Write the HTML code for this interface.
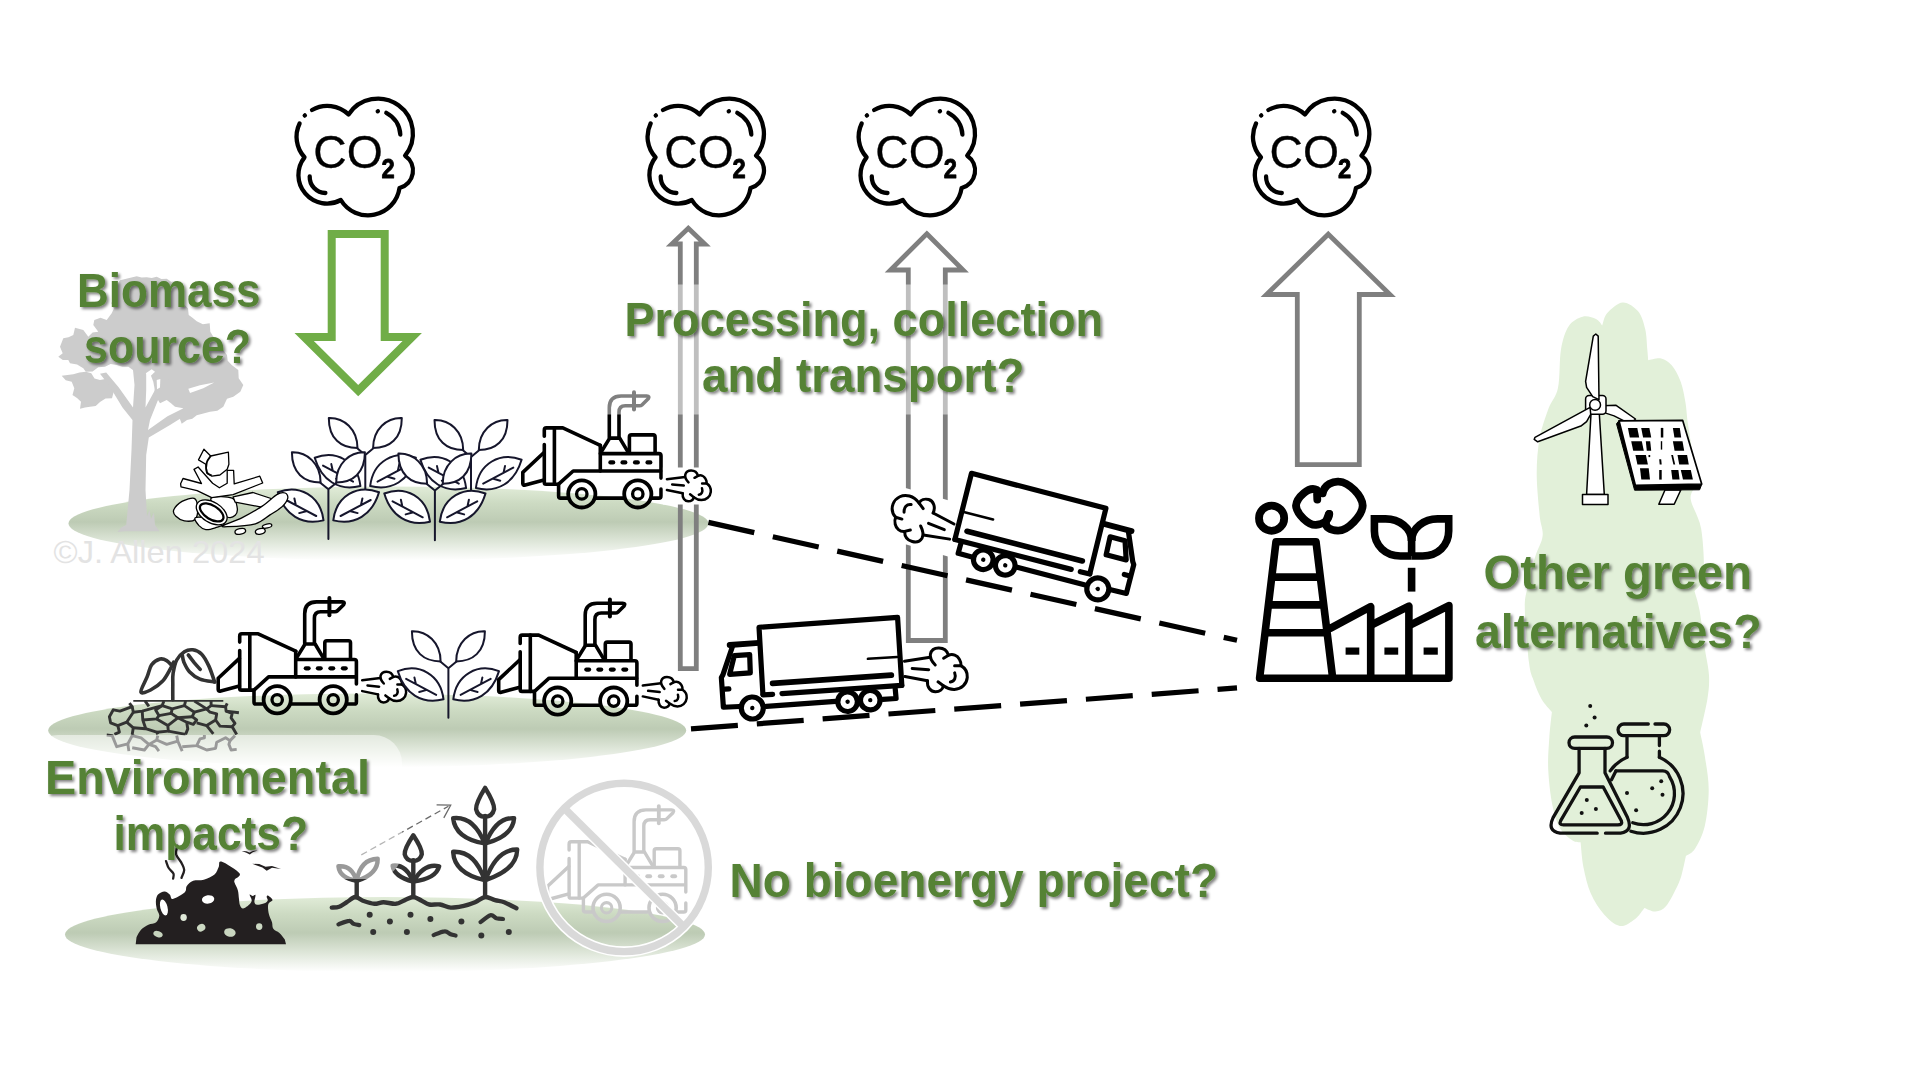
<!DOCTYPE html>
<html lang="en">
<head>
<meta charset="utf-8">
<title>Bioenergy carbon accounting questions</title>
<style>
html,body{margin:0;padding:0;background:#ffffff;}
body{width:1920px;height:1080px;overflow:hidden;font-family:"Liberation Sans",sans-serif;}
svg{display:block;}
</style>
</head>
<body>
<svg width="1920" height="1080" viewBox="0 0 1920 1080" role="img" aria-label="Bioenergy supply chain questions">
<defs>
<linearGradient id="gnd" x1="0" y1="0" x2="0" y2="1">
<stop offset="0" stop-color="#e1ecd8"/>
<stop offset="0.22" stop-color="#cddbc3"/>
<stop offset="0.48" stop-color="#bdcbb4"/>
<stop offset="0.75" stop-color="#dfe7da"/>
<stop offset="1" stop-color="#ffffff"/>
</linearGradient>
<filter id="ts" x="-10%" y="-20%" width="125%" height="150%">
<feGaussianBlur in="SourceAlpha" stdDeviation="1.8" result="b"/>
<feOffset in="b" dx="2.4" dy="2.4" result="o"/>
<feComponentTransfer in="o" result="s"><feFuncA type="linear" slope="0.5"/></feComponentTransfer>
<feMerge><feMergeNode in="s"/><feMergeNode in="SourceGraphic"/></feMerge>
</filter>
</defs>
<ellipse cx="388.5" cy="523.5" rx="320" ry="37" fill="url(#gnd)"/>
<ellipse cx="367.2" cy="730.5" rx="319" ry="37" fill="url(#gnd)"/>
<ellipse cx="385" cy="934.5" rx="320" ry="37.5" fill="url(#gnd)"/>
<path d="M120.0,280.3 L128.3,278.3 L136.7,276.3 L141.6,277.4 L146.7,277.3 L151.7,278.1 L156.7,276.7 L161.4,279.0 L166.7,278.7 L171.2,281.8 L176.7,281.0 L178.2,286.8 L181.7,291.7 L180.6,297.9 L183.3,303.7 L188.0,308.4 L188.7,315.0 L192.8,318.0 L196.7,321.3 L202.9,324.3 L209.7,323.3 L210.3,331.7 L213.0,336.2 L216.7,340.0 L221.7,348.3 L227.0,355.0 L227.7,360.8 L231.7,365.0 L238.3,370.0 L238.7,378.3 L243.3,385.0 L240.3,391.7 L233.3,396.7 L227.0,398.7 L223.3,406.7 L217.3,410.8 L210.0,411.7 L203.4,413.6 L196.7,415.3 L192.3,418.7 L187.0,420.0 L181.7,423.7 L178.7,415.8 L183.3,408.3 L175.0,406.7 L171.0,403.2 L166.7,400.0 L160.0,403.3 L155.0,395.0 L154.5,388.3 L153.3,381.7 L150.0,373.3 L144.6,374.7 L140.0,371.7 L133.7,370.4 L128.3,366.7 L122.4,366.8 L116.7,365.0 L110.6,363.9 L105.0,366.7 L98.3,367.2 L92.6,371.5 L85.8,371.7 L83.3,368.3 L77.1,364.6 L70.0,363.3 L68.3,360.0 L62.8,359.9 L58.3,356.7 L62.7,353.3 L60.0,346.7 L63.3,338.3 L68.5,337.2 L73.3,335.0 L75.0,327.7 L83.3,330.0 L88.3,336.7 L92.6,332.6 L98.3,331.7 L93.3,325.0 L94.3,320.0 L100.5,317.7 L106.7,320.0 L111.7,313.3 L113.9,308.5 L111.4,303.2 L113.3,298.3 L113.0,292.3 L115.3,286.7Z" fill="#cccccc"/>
<path d="M61.7,375.8 L67.5,374.9 L73.3,374.2 L79.5,372.4 L85.8,371.7 L91.3,373.2 L94.5,378.5 L100.0,380.0 L105.3,378.9 L110.0,381.7 L111.8,386.7 L113.7,391.7 L112.0,398.3 L105.5,398.6 L100.0,402.0 L95.7,405.9 L90.0,406.7 L85.0,407.5 L80.0,408.7 L81.0,401.7 L77.0,398.0 L72.5,395.0 L74.3,388.3 L71.7,381.7 L65.7,380.3Z" fill="#cccccc"/>
<path d="M125.0,531.2 L117.5,532.0 L121.2,527.5 L126.2,525.0 L129.5,490.0 L131.5,450.0 L132.5,420.0 L122.5,407.5 L108.8,385.0 L100.0,373.8 L106.2,372.5 L118.8,387.5 L133.0,407.5 L134.5,385.0 L132.5,365.0 L146.2,365.0 L146.2,390.0 L145.5,407.5 L155.0,390.0 L162.5,377.5 L168.8,380.0 L160.0,395.0 L150.0,420.0 L148.0,430.0 L167.5,416.2 L185.0,407.5 L190.0,412.5 L170.0,425.0 L148.8,437.5 L146.2,455.0 L145.5,490.0 L147.0,516.2 L149.5,510.0 L151.0,518.8 L154.0,512.5 L155.0,525.0 L159.5,531.2Z" fill="#cccccc"/>
<path d="M188.3,388.7 L200.0,385.3 L214.2,382.5 L203.3,388.3 L190.0,393.0Z" fill="#ffffff"/>
<path d="M156.7,380.0 L160.3,379.0 L160.0,387.5 L157.0,389.2Z" fill="#ffffff"/>
<path d="M145.8,373.3 L151.7,369.2 L155.0,371.7 L148.3,378.3Z" fill="#ffffff"/>
<path d="M1551.9,711.9 C1550.1,709.7 1544.5,704.1 1541.5,698.9 C1538.5,693.7 1535.8,686.8 1533.7,680.7 C1531.6,674.7 1530.5,674.6 1529.0,662.6 C1527.6,650.6 1525.0,621.4 1524.8,608.7 C1524.6,596.1 1526.1,595.1 1527.8,586.5 C1529.5,577.9 1532.7,565.2 1535.2,556.8 C1537.7,548.4 1541.9,543.0 1542.6,536.1 C1543.4,529.2 1540.6,525.7 1539.6,515.3 C1538.7,505.0 1536.7,486.7 1536.7,473.8 C1536.7,461.0 1537.7,449.1 1539.6,438.2 C1541.6,427.4 1545.5,417.0 1548.5,408.6 C1551.6,400.2 1556.0,397.7 1558.0,387.8 C1560.1,378.0 1559.2,359.6 1561.0,349.3 C1562.8,339.0 1565.1,331.6 1568.7,326.2 C1572.3,320.7 1578.1,317.9 1582.6,316.7 C1587.2,315.5 1592.7,317.6 1596.0,319.1 C1599.2,320.5 1601.2,324.5 1602.2,325.6 C1603.1,323.5 1603.8,317.0 1607.3,313.1 C1610.7,309.3 1617.5,302.7 1622.7,302.5 C1627.8,302.2 1634.3,306.9 1638.1,311.3 C1641.8,315.8 1643.7,322.8 1645.2,329.1 C1646.7,335.5 1646.8,344.1 1647.3,349.3 C1647.8,354.5 1648.0,358.4 1648.2,360.3 C1650.3,360.0 1657.3,357.6 1661.2,358.5 C1665.2,359.4 1668.6,361.7 1671.9,365.6 C1675.1,369.5 1678.5,375.7 1680.8,381.9 C1683.1,388.1 1684.3,395.8 1685.5,402.7 C1686.7,409.6 1686.5,413.4 1687.9,423.4 C1689.3,433.4 1692.6,453.0 1694.2,462.8 C1695.7,472.6 1697.8,476.3 1697.3,482.3 C1696.7,488.2 1690.0,490.8 1690.6,498.6 C1691.3,506.4 1699.0,516.1 1701.2,528.9 C1703.3,541.8 1704.6,565.2 1703.5,575.6 C1702.4,586.0 1696.0,588.6 1694.5,591.2 C1695.4,594.4 1697.8,600.9 1699.6,610.6 C1701.3,620.3 1703.5,638.7 1705.0,649.5 C1706.6,660.3 1708.6,667.3 1709.0,675.6 C1709.4,683.8 1708.9,689.4 1707.4,698.9 C1705.9,708.4 1701.4,727.0 1700.2,732.6 C1700.9,736.5 1703.4,746.4 1704.8,755.9 C1706.2,765.4 1708.7,778.0 1708.7,789.6 C1708.7,801.3 1707.1,816.1 1704.8,825.9 C1702.5,835.8 1698.1,843.7 1695.0,848.7 C1691.8,853.8 1687.4,854.8 1685.9,856.0 C1685.2,859.2 1683.1,869.8 1681.5,875.2 C1679.9,880.6 1678.9,883.0 1676.3,888.2 C1673.7,893.3 1669.4,902.4 1665.9,906.3 C1662.5,910.2 1659.1,911.2 1655.6,911.5 C1652.0,911.8 1646.3,908.5 1644.4,907.9 C1642.8,909.8 1638.9,916.2 1634.8,919.3 C1630.7,922.3 1625.0,926.9 1619.8,926.0 C1614.6,925.1 1608.5,919.5 1603.7,914.1 C1598.9,908.6 1594.1,901.1 1590.7,893.3 C1587.4,885.6 1585.2,875.9 1583.5,867.4 C1581.8,858.9 1581.1,846.5 1580.6,842.3 C1579.3,842.0 1576.0,842.7 1572.6,840.5 C1569.2,838.2 1563.5,834.4 1560.2,828.5 C1556.8,822.6 1554.4,815.1 1552.4,805.2 C1550.4,795.3 1548.7,780.1 1548.2,768.9 C1547.7,757.7 1548.7,747.3 1549.3,737.8 C1549.9,728.3 1551.4,716.2 1551.9,711.9Z" fill="#e2f0d9"/>
<path d="M358.2,390.6 L412.2,337.0 L384.7,337.0 L384.7,234.0 L331.7,234.0 L331.7,337.0 L304.2,337.0 Z" fill="none" stroke="#70ad47" stroke-width="8" stroke-linejoin="miter"/>
<path d="M688.3,228.3 L704.8,244.0 L696.3,244.0 L696.3,668.7 L680.3,668.7 L680.3,244.0 L671.8,244.0 Z" fill="none" stroke="#7f7f7f" stroke-width="4.8" stroke-linejoin="miter"/>
<path d="M926.8,233.8 L963.1,270.0 L945.3,270.0 L945.3,640.5 L908.3,640.5 L908.3,270.0 L890.5,270.0 Z" fill="none" stroke="#7f7f7f" stroke-width="4.8" stroke-linejoin="miter"/>
<path d="M1328.3,234.2 L1390.0,294.5 L1359.3,294.5 L1359.3,464.7 L1297.3,464.7 L1297.3,294.5 L1266.5,294.5 Z" fill="none" stroke="#7f7f7f" stroke-width="4.8" stroke-linejoin="miter"/>
<line x1="708.4" y1="522.4" x2="1237" y2="640.3" stroke="#000" stroke-width="5.2" stroke-dasharray="47 19"/>
<line x1="691" y1="728.8" x2="1237" y2="687.9" stroke="#000" stroke-width="5.2" stroke-dasharray="47 19"/>
<g transform="translate(0,0)" fill="none" stroke="#000" stroke-width="4.3" stroke-linecap="round" stroke-linejoin="round"><path d="M312,110 A30.5,30.5 0 0 1 348.5,114.5 A35.05,35.05 0 1 1 405.1,155.7 A18,18 0 0 1 399.5,188 A31.8,31.8 0 0 1 340.8,200 A28.6,28.6 0 0 1 304.5,157.3 A30.5,30.5 0 0 1 299.6,123.5"/><path d="M304.7,115.6 L304.9,115.4"/><path d="M386.3,112.8 A26,26 0 0 1 400.3,134.5"/><path d="M377.7,111.3 L377.9,111.2"/><path d="M309.7,176.5 A16,16 0 0 0 325.4,193"/></g><text opacity="0.999" transform="translate(0,0)" x="313.2" y="168.2" font-family="'Liberation Sans',sans-serif" font-size="46.5" fill="#000" stroke="#000" stroke-width="0.35" textLength="69.5" lengthAdjust="spacingAndGlyphs">CO</text><text opacity="0.999" transform="translate(0,0)" x="381.6" y="178.3" font-family="'Liberation Sans',sans-serif" font-weight="bold" font-size="27.5" fill="#000" stroke="#000" stroke-width="0.9" stroke-linejoin="round" textLength="13.2" lengthAdjust="spacingAndGlyphs">2</text>
<g transform="translate(351.0,0)" fill="none" stroke="#000" stroke-width="4.3" stroke-linecap="round" stroke-linejoin="round"><path d="M312,110 A30.5,30.5 0 0 1 348.5,114.5 A35.05,35.05 0 1 1 405.1,155.7 A18,18 0 0 1 399.5,188 A31.8,31.8 0 0 1 340.8,200 A28.6,28.6 0 0 1 304.5,157.3 A30.5,30.5 0 0 1 299.6,123.5"/><path d="M304.7,115.6 L304.9,115.4"/><path d="M386.3,112.8 A26,26 0 0 1 400.3,134.5"/><path d="M377.7,111.3 L377.9,111.2"/><path d="M309.7,176.5 A16,16 0 0 0 325.4,193"/></g><text opacity="0.999" transform="translate(351.0,0)" x="313.2" y="168.2" font-family="'Liberation Sans',sans-serif" font-size="46.5" fill="#000" stroke="#000" stroke-width="0.35" textLength="69.5" lengthAdjust="spacingAndGlyphs">CO</text><text opacity="0.999" transform="translate(351.0,0)" x="381.6" y="178.3" font-family="'Liberation Sans',sans-serif" font-weight="bold" font-size="27.5" fill="#000" stroke="#000" stroke-width="0.9" stroke-linejoin="round" textLength="13.2" lengthAdjust="spacingAndGlyphs">2</text>
<g transform="translate(562.1,0)" fill="none" stroke="#000" stroke-width="4.3" stroke-linecap="round" stroke-linejoin="round"><path d="M312,110 A30.5,30.5 0 0 1 348.5,114.5 A35.05,35.05 0 1 1 405.1,155.7 A18,18 0 0 1 399.5,188 A31.8,31.8 0 0 1 340.8,200 A28.6,28.6 0 0 1 304.5,157.3 A30.5,30.5 0 0 1 299.6,123.5"/><path d="M304.7,115.6 L304.9,115.4"/><path d="M386.3,112.8 A26,26 0 0 1 400.3,134.5"/><path d="M377.7,111.3 L377.9,111.2"/><path d="M309.7,176.5 A16,16 0 0 0 325.4,193"/></g><text opacity="0.999" transform="translate(562.1,0)" x="313.2" y="168.2" font-family="'Liberation Sans',sans-serif" font-size="46.5" fill="#000" stroke="#000" stroke-width="0.35" textLength="69.5" lengthAdjust="spacingAndGlyphs">CO</text><text opacity="0.999" transform="translate(562.1,0)" x="381.6" y="178.3" font-family="'Liberation Sans',sans-serif" font-weight="bold" font-size="27.5" fill="#000" stroke="#000" stroke-width="0.9" stroke-linejoin="round" textLength="13.2" lengthAdjust="spacingAndGlyphs">2</text>
<g transform="translate(956.4,0)" fill="none" stroke="#000" stroke-width="4.3" stroke-linecap="round" stroke-linejoin="round"><path d="M312,110 A30.5,30.5 0 0 1 348.5,114.5 A35.05,35.05 0 1 1 405.1,155.7 A18,18 0 0 1 399.5,188 A31.8,31.8 0 0 1 340.8,200 A28.6,28.6 0 0 1 304.5,157.3 A30.5,30.5 0 0 1 299.6,123.5"/><path d="M304.7,115.6 L304.9,115.4"/><path d="M386.3,112.8 A26,26 0 0 1 400.3,134.5"/><path d="M377.7,111.3 L377.9,111.2"/><path d="M309.7,176.5 A16,16 0 0 0 325.4,193"/></g><text opacity="0.999" transform="translate(956.4,0)" x="313.2" y="168.2" font-family="'Liberation Sans',sans-serif" font-size="46.5" fill="#000" stroke="#000" stroke-width="0.35" textLength="69.5" lengthAdjust="spacingAndGlyphs">CO</text><text opacity="0.999" transform="translate(956.4,0)" x="381.6" y="178.3" font-family="'Liberation Sans',sans-serif" font-weight="bold" font-size="27.5" fill="#000" stroke="#000" stroke-width="0.9" stroke-linejoin="round" textLength="13.2" lengthAdjust="spacingAndGlyphs">2</text>
<g transform="translate(365.3,504.5) scale(1.0,1.0)" fill="#fff" stroke="#16162c" stroke-width="2.0" stroke-linecap="round" stroke-linejoin="round"><path d="M0,0 L0,-49.6 M-7.8,-56 L0,-49.6 L7.8,-56" fill="none"/><g transform="scale(1,1)"><path d="M-36.5,-86.6 C-21.4,-87.1 -7.8,-75.4 -7.8,-56.4 C-24.3,-56.4 -36.5,-65.7 -36.5,-86.6 Z"/><path d="M-50.6,-46.7 C-29.2,-55 -7.8,-43.3 -4.9,-18.5 C-26.3,-13.1 -43.8,-23.8 -50.6,-46.7 Z"/><path d="M-42.3,-38.9 L-12.2,-22.9 M-32.6,-34 L-34,-40.4 M-22.4,-27.7 L-29.2,-25.8" fill="none"/></g><g transform="scale(-1,1)"><path d="M-36.5,-86.6 C-21.4,-87.1 -7.8,-75.4 -7.8,-56.4 C-24.3,-56.4 -36.5,-65.7 -36.5,-86.6 Z"/><path d="M-50.6,-46.7 C-29.2,-55 -7.8,-43.3 -4.9,-18.5 C-26.3,-13.1 -43.8,-23.8 -50.6,-46.7 Z"/><path d="M-42.3,-38.9 L-12.2,-22.9 M-32.6,-34 L-34,-40.4 M-22.4,-27.7 L-29.2,-25.8" fill="none"/></g></g>
<g transform="translate(328.4,538.9) scale(1.0,1.0)" fill="#fff" stroke="#16162c" stroke-width="2.0" stroke-linecap="round" stroke-linejoin="round"><path d="M0,0 L0,-49.6 M-7.8,-56 L0,-49.6 L7.8,-56" fill="none"/><g transform="scale(1,1)"><path d="M-36.5,-86.6 C-21.4,-87.1 -7.8,-75.4 -7.8,-56.4 C-24.3,-56.4 -36.5,-65.7 -36.5,-86.6 Z"/><path d="M-50.6,-46.7 C-29.2,-55 -7.8,-43.3 -4.9,-18.5 C-26.3,-13.1 -43.8,-23.8 -50.6,-46.7 Z"/><path d="M-42.3,-38.9 L-12.2,-22.9 M-32.6,-34 L-34,-40.4 M-22.4,-27.7 L-29.2,-25.8" fill="none"/></g><g transform="scale(-1,1)"><path d="M-36.5,-86.6 C-21.4,-87.1 -7.8,-75.4 -7.8,-56.4 C-24.3,-56.4 -36.5,-65.7 -36.5,-86.6 Z"/><path d="M-50.6,-46.7 C-29.2,-55 -7.8,-43.3 -4.9,-18.5 C-26.3,-13.1 -43.8,-23.8 -50.6,-46.7 Z"/><path d="M-42.3,-38.9 L-12.2,-22.9 M-32.6,-34 L-34,-40.4 M-22.4,-27.7 L-29.2,-25.8" fill="none"/></g></g>
<g transform="translate(471.0,506.5) scale(1.0,1.0)" fill="#fff" stroke="#16162c" stroke-width="2.0" stroke-linecap="round" stroke-linejoin="round"><path d="M0,0 L0,-49.6 M-7.8,-56 L0,-49.6 L7.8,-56" fill="none"/><g transform="scale(1,1)"><path d="M-36.5,-86.6 C-21.4,-87.1 -7.8,-75.4 -7.8,-56.4 C-24.3,-56.4 -36.5,-65.7 -36.5,-86.6 Z"/><path d="M-50.6,-46.7 C-29.2,-55 -7.8,-43.3 -4.9,-18.5 C-26.3,-13.1 -43.8,-23.8 -50.6,-46.7 Z"/><path d="M-42.3,-38.9 L-12.2,-22.9 M-32.6,-34 L-34,-40.4 M-22.4,-27.7 L-29.2,-25.8" fill="none"/></g><g transform="scale(-1,1)"><path d="M-36.5,-86.6 C-21.4,-87.1 -7.8,-75.4 -7.8,-56.4 C-24.3,-56.4 -36.5,-65.7 -36.5,-86.6 Z"/><path d="M-50.6,-46.7 C-29.2,-55 -7.8,-43.3 -4.9,-18.5 C-26.3,-13.1 -43.8,-23.8 -50.6,-46.7 Z"/><path d="M-42.3,-38.9 L-12.2,-22.9 M-32.6,-34 L-34,-40.4 M-22.4,-27.7 L-29.2,-25.8" fill="none"/></g></g>
<g transform="translate(434.9,540.2) scale(1.0,1.0)" fill="#fff" stroke="#16162c" stroke-width="2.0" stroke-linecap="round" stroke-linejoin="round"><path d="M0,0 L0,-49.6 M-7.8,-56 L0,-49.6 L7.8,-56" fill="none"/><g transform="scale(1,1)"><path d="M-36.5,-86.6 C-21.4,-87.1 -7.8,-75.4 -7.8,-56.4 C-24.3,-56.4 -36.5,-65.7 -36.5,-86.6 Z"/><path d="M-50.6,-46.7 C-29.2,-55 -7.8,-43.3 -4.9,-18.5 C-26.3,-13.1 -43.8,-23.8 -50.6,-46.7 Z"/><path d="M-42.3,-38.9 L-12.2,-22.9 M-32.6,-34 L-34,-40.4 M-22.4,-27.7 L-29.2,-25.8" fill="none"/></g><g transform="scale(-1,1)"><path d="M-36.5,-86.6 C-21.4,-87.1 -7.8,-75.4 -7.8,-56.4 C-24.3,-56.4 -36.5,-65.7 -36.5,-86.6 Z"/><path d="M-50.6,-46.7 C-29.2,-55 -7.8,-43.3 -4.9,-18.5 C-26.3,-13.1 -43.8,-23.8 -50.6,-46.7 Z"/><path d="M-42.3,-38.9 L-12.2,-22.9 M-32.6,-34 L-34,-40.4 M-22.4,-27.7 L-29.2,-25.8" fill="none"/></g></g>
<g transform="translate(0,0)" fill="none" stroke="#000" stroke-width="3.6" stroke-linecap="round" stroke-linejoin="round"><path d="M544.3,436.2 L544.3,430.3 Q544.3,427.9 546.4,427.9 L562.8,427.9 L600.3,445.3"/><path d="M544.3,444.6 L544.3,482.5 Q544.3,484.2 546.1,484.2 L558.6,484.2"/><path d="M554.4,427.9 L554.4,484.2"/><path d="M544.0,452.5 L522.8,472.4 L522.8,483.5 Q522.8,485.8 525.3,485.1 L544.0,480.0"/><path d="M568.3,498.1 L560.7,498.1 Q558.6,498.1 558.6,496.0 L558.6,484.2 L573.2,471.0 L660.7,471.0"/><path d="M595.4,498.1 L624.2,498.1"/><path d="M651.4,498.1 L658.9,498.1 Q661.0,498.1 661.0,496.0 L661.0,489.0 M661.0,478.1 L661.0,455.7 Q661.0,453.6 658.9,453.6 L600.3,453.6"/><path d="M600.3,445.3 L600.3,471.0"/><path d="M601.0,452.2 L609.7,438.1 L619.7,438.1 L628.1,452.2"/><path d="M629.4,452.2 L629.4,436.9 Q629.4,434.9 631.5,434.9 L653.1,434.9 Q655.1,434.9 655.1,436.9 L655.1,452.2"/><path d="M610.4,462.4 L613.2,462.4" stroke-width="4.2"/><path d="M622.5,462.4 L625.3,462.4" stroke-width="4.2"/><path d="M635.0,462.4 L637.8,462.4" stroke-width="4.2"/><path d="M647.5,462.4 L650.3,462.4" stroke-width="4.2"/><circle cx="581.8" cy="493.9" r="13.6" stroke-width="3.8000000000000003"/><circle cx="581.8" cy="493.9" r="5.2" stroke-width="3.3000000000000003"/><circle cx="637.8" cy="493.9" r="13.6" stroke-width="3.8000000000000003"/><circle cx="637.8" cy="493.9" r="5.2" stroke-width="3.3000000000000003"/><g stroke="#000"><path d="M609.3,437.6 L609.3,407.8 Q609.3,396.0 621.1,396.0 L646.8,396.0 Q650.0,396.0 648.2,398.8 L641.9,405.0 Q641.1,405.8 639.4,405.8 L625.3,405.8 Q619.0,405.8 619.0,412.2 L619.0,437.6"/><path d="M634.0,392.2 L634.0,409.4" stroke-width="4.0"/></g></g>
<g transform="translate(666.9,485) rotate(0.0) scale(1.0,1.0)" fill="none" stroke="#000" stroke-width="2.50" stroke-linecap="round" stroke-linejoin="round"><rect x="-4" y="-17.5" width="52" height="37" fill="#fff" stroke="none"/><path d="M18.1,-8.1 C18.4,-11.6 20.6,-14.4 24.2,-14.4 C27.6,-14.4 30.2,-12.4 31.1,-9.2 C34.2,-10.4 37.3,-8.9 38.7,-6.2 C39.6,-4.6 39.9,-3.1 39.7,-1.6 C42.6,0.2 44.2,3.3 43.9,6.8 C43.4,11.6 39.4,15 34.6,15 C31.4,15 29.2,13.9 26.9,12.2 C26.4,14.6 24.2,16.3 21.3,16.3 C17.9,16.3 15.6,13.9 15.8,8.3 Z" fill="#fff" stroke="none"/><path d="M0,-5.8 L18.1,-8.1"/><path d="M5.3,-0.6 L16.9,0.6"/><path d="M0,5 L15.8,8.3"/><path d="M21.6,-2.6 C19,-5.4 17.9,-8.3 18.4,-10.4 C19.2,-13.2 21.6,-14.4 24.2,-14.4 C27.6,-14.4 30.2,-12.4 31.1,-9.2 L27.6,-7.2"/><path d="M31.1,-9.2 C34.2,-10.4 37.3,-8.9 38.7,-6.2 C39.6,-4.6 39.9,-3.1 39.7,-1.6 L35.2,-1.6"/><path d="M39.7,-1.6 C42.6,0.2 44.2,3.3 43.9,6.8 C43.4,11.6 39.4,15 34.6,15 C31.4,15 29.2,13.9 26.9,12.2 L23.2,9.3"/><path d="M15.8,8.3 C15.2,13 17.9,16.3 21.3,16.3 C24.2,16.3 26.4,14.6 26.9,12.2"/><path d="M35.1,3.3 C36.2,6.6 34.9,9.3 31.9,9.7"/></g>
<g transform="translate(-304.6,205.9)" fill="none" stroke="#000" stroke-width="3.6" stroke-linecap="round" stroke-linejoin="round"><path d="M544.3,436.2 L544.3,430.3 Q544.3,427.9 546.4,427.9 L562.8,427.9 L600.3,445.3"/><path d="M544.3,444.6 L544.3,482.5 Q544.3,484.2 546.1,484.2 L558.6,484.2"/><path d="M554.4,427.9 L554.4,484.2"/><path d="M544.0,452.5 L522.8,472.4 L522.8,483.5 Q522.8,485.8 525.3,485.1 L544.0,480.0"/><path d="M568.3,498.1 L560.7,498.1 Q558.6,498.1 558.6,496.0 L558.6,484.2 L573.2,471.0 L660.7,471.0"/><path d="M595.4,498.1 L624.2,498.1"/><path d="M651.4,498.1 L658.9,498.1 Q661.0,498.1 661.0,496.0 L661.0,489.0 M661.0,478.1 L661.0,455.7 Q661.0,453.6 658.9,453.6 L600.3,453.6"/><path d="M600.3,445.3 L600.3,471.0"/><path d="M601.0,452.2 L609.7,438.1 L619.7,438.1 L628.1,452.2"/><path d="M629.4,452.2 L629.4,436.9 Q629.4,434.9 631.5,434.9 L653.1,434.9 Q655.1,434.9 655.1,436.9 L655.1,452.2"/><path d="M610.4,462.4 L613.2,462.4" stroke-width="4.2"/><path d="M622.5,462.4 L625.3,462.4" stroke-width="4.2"/><path d="M635.0,462.4 L637.8,462.4" stroke-width="4.2"/><path d="M647.5,462.4 L650.3,462.4" stroke-width="4.2"/><circle cx="581.8" cy="493.9" r="13.6" stroke-width="3.8000000000000003"/><circle cx="581.8" cy="493.9" r="5.2" stroke-width="3.3000000000000003"/><circle cx="637.8" cy="493.9" r="13.6" stroke-width="3.8000000000000003"/><circle cx="637.8" cy="493.9" r="5.2" stroke-width="3.3000000000000003"/><g stroke="#000"><path d="M609.3,437.6 L609.3,407.8 Q609.3,396.0 621.1,396.0 L646.8,396.0 Q650.0,396.0 648.2,398.8 L641.9,405.0 Q641.1,405.8 639.4,405.8 L625.3,405.8 Q619.0,405.8 619.0,412.2 L619.0,437.6"/><path d="M634.0,392.2 L634.0,409.4" stroke-width="4.0"/></g></g>
<g transform="translate(362.2,686.1) rotate(0.0) scale(1.0,1.0)" fill="none" stroke="#000" stroke-width="2.50" stroke-linecap="round" stroke-linejoin="round"><path d="M18.1,-8.1 C18.4,-11.6 20.6,-14.4 24.2,-14.4 C27.6,-14.4 30.2,-12.4 31.1,-9.2 C34.2,-10.4 37.3,-8.9 38.7,-6.2 C39.6,-4.6 39.9,-3.1 39.7,-1.6 C42.6,0.2 44.2,3.3 43.9,6.8 C43.4,11.6 39.4,15 34.6,15 C31.4,15 29.2,13.9 26.9,12.2 C26.4,14.6 24.2,16.3 21.3,16.3 C17.9,16.3 15.6,13.9 15.8,8.3 Z" fill="#fff" stroke="none"/><path d="M0,-5.8 L18.1,-8.1"/><path d="M5.3,-0.6 L16.9,0.6"/><path d="M0,5 L15.8,8.3"/><path d="M21.6,-2.6 C19,-5.4 17.9,-8.3 18.4,-10.4 C19.2,-13.2 21.6,-14.4 24.2,-14.4 C27.6,-14.4 30.2,-12.4 31.1,-9.2 L27.6,-7.2"/><path d="M31.1,-9.2 C34.2,-10.4 37.3,-8.9 38.7,-6.2 C39.6,-4.6 39.9,-3.1 39.7,-1.6 L35.2,-1.6"/><path d="M39.7,-1.6 C42.6,0.2 44.2,3.3 43.9,6.8 C43.4,11.6 39.4,15 34.6,15 C31.4,15 29.2,13.9 26.9,12.2 L23.2,9.3"/><path d="M15.8,8.3 C15.2,13 17.9,16.3 21.3,16.3 C24.2,16.3 26.4,14.6 26.9,12.2"/><path d="M35.1,3.3 C36.2,6.6 34.9,9.3 31.9,9.7"/></g>
<g transform="translate(448.4,717.8) scale(1.0,1.0)" fill="#fff" stroke="#16162c" stroke-width="2.0" stroke-linecap="round" stroke-linejoin="round"><path d="M0,0 L0,-49.6 M-7.8,-56 L0,-49.6 L7.8,-56" fill="none"/><g transform="scale(1,1)"><path d="M-36.5,-86.6 C-21.4,-87.1 -7.8,-75.4 -7.8,-56.4 C-24.3,-56.4 -36.5,-65.7 -36.5,-86.6 Z"/><path d="M-50.6,-46.7 C-29.2,-55 -7.8,-43.3 -4.9,-18.5 C-26.3,-13.1 -43.8,-23.8 -50.6,-46.7 Z"/><path d="M-42.3,-38.9 L-12.2,-22.9 M-32.6,-34 L-34,-40.4 M-22.4,-27.7 L-29.2,-25.8" fill="none"/></g><g transform="scale(-1,1)"><path d="M-36.5,-86.6 C-21.4,-87.1 -7.8,-75.4 -7.8,-56.4 C-24.3,-56.4 -36.5,-65.7 -36.5,-86.6 Z"/><path d="M-50.6,-46.7 C-29.2,-55 -7.8,-43.3 -4.9,-18.5 C-26.3,-13.1 -43.8,-23.8 -50.6,-46.7 Z"/><path d="M-42.3,-38.9 L-12.2,-22.9 M-32.6,-34 L-34,-40.4 M-22.4,-27.7 L-29.2,-25.8" fill="none"/></g></g>
<g transform="translate(-24.1,207.2)" fill="none" stroke="#000" stroke-width="3.6" stroke-linecap="round" stroke-linejoin="round"><path d="M544.3,436.2 L544.3,430.3 Q544.3,427.9 546.4,427.9 L562.8,427.9 L600.3,445.3"/><path d="M544.3,444.6 L544.3,482.5 Q544.3,484.2 546.1,484.2 L558.6,484.2"/><path d="M554.4,427.9 L554.4,484.2"/><path d="M544.0,452.5 L522.8,472.4 L522.8,483.5 Q522.8,485.8 525.3,485.1 L544.0,480.0"/><path d="M568.3,498.1 L560.7,498.1 Q558.6,498.1 558.6,496.0 L558.6,484.2 L573.2,471.0 L660.7,471.0"/><path d="M595.4,498.1 L624.2,498.1"/><path d="M651.4,498.1 L658.9,498.1 Q661.0,498.1 661.0,496.0 L661.0,489.0 M661.0,478.1 L661.0,455.7 Q661.0,453.6 658.9,453.6 L600.3,453.6"/><path d="M600.3,445.3 L600.3,471.0"/><path d="M601.0,452.2 L609.7,438.1 L619.7,438.1 L628.1,452.2"/><path d="M629.4,452.2 L629.4,436.9 Q629.4,434.9 631.5,434.9 L653.1,434.9 Q655.1,434.9 655.1,436.9 L655.1,452.2"/><path d="M610.4,462.4 L613.2,462.4" stroke-width="4.2"/><path d="M622.5,462.4 L625.3,462.4" stroke-width="4.2"/><path d="M635.0,462.4 L637.8,462.4" stroke-width="4.2"/><path d="M647.5,462.4 L650.3,462.4" stroke-width="4.2"/><circle cx="581.8" cy="493.9" r="13.6" stroke-width="3.8000000000000003"/><circle cx="581.8" cy="493.9" r="5.2" stroke-width="3.3000000000000003"/><circle cx="637.8" cy="493.9" r="13.6" stroke-width="3.8000000000000003"/><circle cx="637.8" cy="493.9" r="5.2" stroke-width="3.3000000000000003"/><g stroke="#000"><path d="M609.3,437.6 L609.3,407.8 Q609.3,396.0 621.1,396.0 L646.8,396.0 Q650.0,396.0 648.2,398.8 L641.9,405.0 Q641.1,405.8 639.4,405.8 L625.3,405.8 Q619.0,405.8 619.0,412.2 L619.0,437.6"/><path d="M634.0,392.2 L634.0,409.4" stroke-width="4.0"/></g></g>
<g transform="translate(642.8,691.4) rotate(0.0) scale(1.0,1.0)" fill="none" stroke="#000" stroke-width="2.50" stroke-linecap="round" stroke-linejoin="round"><path d="M18.1,-8.1 C18.4,-11.6 20.6,-14.4 24.2,-14.4 C27.6,-14.4 30.2,-12.4 31.1,-9.2 C34.2,-10.4 37.3,-8.9 38.7,-6.2 C39.6,-4.6 39.9,-3.1 39.7,-1.6 C42.6,0.2 44.2,3.3 43.9,6.8 C43.4,11.6 39.4,15 34.6,15 C31.4,15 29.2,13.9 26.9,12.2 C26.4,14.6 24.2,16.3 21.3,16.3 C17.9,16.3 15.6,13.9 15.8,8.3 Z" fill="#fff" stroke="none"/><path d="M0,-5.8 L18.1,-8.1"/><path d="M5.3,-0.6 L16.9,0.6"/><path d="M0,5 L15.8,8.3"/><path d="M21.6,-2.6 C19,-5.4 17.9,-8.3 18.4,-10.4 C19.2,-13.2 21.6,-14.4 24.2,-14.4 C27.6,-14.4 30.2,-12.4 31.1,-9.2 L27.6,-7.2"/><path d="M31.1,-9.2 C34.2,-10.4 37.3,-8.9 38.7,-6.2 C39.6,-4.6 39.9,-3.1 39.7,-1.6 L35.2,-1.6"/><path d="M39.7,-1.6 C42.6,0.2 44.2,3.3 43.9,6.8 C43.4,11.6 39.4,15 34.6,15 C31.4,15 29.2,13.9 26.9,12.2 L23.2,9.3"/><path d="M15.8,8.3 C15.2,13 17.9,16.3 21.3,16.3 C24.2,16.3 26.4,14.6 26.9,12.2"/><path d="M35.1,3.3 C36.2,6.6 34.9,9.3 31.9,9.7"/></g>
<g transform="translate(904.7,669.5) rotate(-1.6) scale(1.42,1.42)" fill="none" stroke="#000" stroke-width="2.11" stroke-linecap="round" stroke-linejoin="round"><rect x="-4" y="-17.5" width="52" height="37" fill="#fff" stroke="none"/><path d="M18.1,-8.1 C18.4,-11.6 20.6,-14.4 24.2,-14.4 C27.6,-14.4 30.2,-12.4 31.1,-9.2 C34.2,-10.4 37.3,-8.9 38.7,-6.2 C39.6,-4.6 39.9,-3.1 39.7,-1.6 C42.6,0.2 44.2,3.3 43.9,6.8 C43.4,11.6 39.4,15 34.6,15 C31.4,15 29.2,13.9 26.9,12.2 C26.4,14.6 24.2,16.3 21.3,16.3 C17.9,16.3 15.6,13.9 15.8,8.3 Z" fill="#fff" stroke="none"/><path d="M0,-5.8 L18.1,-8.1"/><path d="M5.3,-0.6 L16.9,0.6"/><path d="M0,5 L15.8,8.3"/><path d="M21.6,-2.6 C19,-5.4 17.9,-8.3 18.4,-10.4 C19.2,-13.2 21.6,-14.4 24.2,-14.4 C27.6,-14.4 30.2,-12.4 31.1,-9.2 L27.6,-7.2"/><path d="M31.1,-9.2 C34.2,-10.4 37.3,-8.9 38.7,-6.2 C39.6,-4.6 39.9,-3.1 39.7,-1.6 L35.2,-1.6"/><path d="M39.7,-1.6 C42.6,0.2 44.2,3.3 43.9,6.8 C43.4,11.6 39.4,15 34.6,15 C31.4,15 29.2,13.9 26.9,12.2 L23.2,9.3"/><path d="M15.8,8.3 C15.2,13 17.9,16.3 21.3,16.3 C24.2,16.3 26.4,14.6 26.9,12.2"/><path d="M35.1,3.3 C36.2,6.6 34.9,9.3 31.9,9.7"/></g>
<g transform="translate(752.3,708) rotate(-3.9) scale(1,1)" fill="none" stroke="#000" stroke-width="5.2" stroke-linecap="round" stroke-linejoin="round"><path d="M11.5,-12.8 L12.2,-80.1 L151.1,-80.5 L150.7,-12.4" fill="#fff"/><path d="M150.7,-12.4 L30.6,-12.3"/><path d="M11.5,-12.4 L21.2,-12.3"/><path d="M21.9,-23.2 L141.0,-23.3" stroke-width="5.6"/><path d="M118.7,-41.2 L148.0,-41.1" stroke-width="2.6"/><path d="M-18.3,-64.4 L11.1,-64.5" stroke-width="5.8"/><path d="M-15.8,-62.2 L-27.1,-35.0 L-28.8,-32.5 L-28.8,-2.7 L-12.8,-2.4" fill="#fff"/><path d="M-14.4,-53.4 L1.0,-53.5 L0.4,-35.2 L-20.3,-35.1Z"/><path d="M-26.0,-20.6 L-22.1,-20.6"/><path d="M14.1,-0.6 L83.5,-1.0"/><path d="M130.8,0.3 L144.1,0.3 L143.9,-9.5"/><circle cx="0.0" cy="0.0" r="11.0" fill="#fff" stroke-width="5.2"/><circle cx="0.0" cy="0.0" r="2.2" fill="#000" stroke="none"/><circle cx="95.5" cy="0.2" r="9.8" fill="#fff" stroke-width="5.2"/><circle cx="95.5" cy="0.2" r="2.2" fill="#000" stroke="none"/><circle cx="118.2" cy="0.2" r="9.8" fill="#fff" stroke-width="5.2"/><circle cx="118.2" cy="0.2" r="2.2" fill="#000" stroke="none"/></g>
<g transform="translate(952,531) rotate(196) scale(1.46,1.46)" fill="none" stroke="#000" stroke-width="2.05" stroke-linecap="round" stroke-linejoin="round"><rect x="-4" y="-17.5" width="52" height="37" fill="#fff" stroke="none"/><path d="M18.1,-8.1 C18.4,-11.6 20.6,-14.4 24.2,-14.4 C27.6,-14.4 30.2,-12.4 31.1,-9.2 C34.2,-10.4 37.3,-8.9 38.7,-6.2 C39.6,-4.6 39.9,-3.1 39.7,-1.6 C42.6,0.2 44.2,3.3 43.9,6.8 C43.4,11.6 39.4,15 34.6,15 C31.4,15 29.2,13.9 26.9,12.2 C26.4,14.6 24.2,16.3 21.3,16.3 C17.9,16.3 15.6,13.9 15.8,8.3 Z" fill="#fff" stroke="none"/><path d="M0,-5.8 L18.1,-8.1"/><path d="M5.3,-0.6 L16.9,0.6"/><path d="M0,5 L15.8,8.3"/><path d="M21.6,-2.6 C19,-5.4 17.9,-8.3 18.4,-10.4 C19.2,-13.2 21.6,-14.4 24.2,-14.4 C27.6,-14.4 30.2,-12.4 31.1,-9.2 L27.6,-7.2"/><path d="M31.1,-9.2 C34.2,-10.4 37.3,-8.9 38.7,-6.2 C39.6,-4.6 39.9,-3.1 39.7,-1.6 L35.2,-1.6"/><path d="M39.7,-1.6 C42.6,0.2 44.2,3.3 43.9,6.8 C43.4,11.6 39.4,15 34.6,15 C31.4,15 29.2,13.9 26.9,12.2 L23.2,9.3"/><path d="M15.8,8.3 C15.2,13 17.9,16.3 21.3,16.3 C24.2,16.3 26.4,14.6 26.9,12.2"/><path d="M35.1,3.3 C36.2,6.6 34.9,9.3 31.9,9.7"/></g>
<g transform="translate(1097.8,588.9) rotate(14.4) scale(-1,1)" fill="none" stroke="#000" stroke-width="5.2" stroke-linecap="round" stroke-linejoin="round"><path d="M11.5,-12.8 L12.2,-80.1 L151.1,-80.5 L150.7,-12.4" fill="#fff"/><path d="M150.7,-12.4 L30.6,-12.3"/><path d="M11.5,-12.4 L21.2,-12.3"/><path d="M21.9,-23.2 L141.0,-23.3" stroke-width="5.6"/><path d="M118.7,-41.2 L148.0,-41.1" stroke-width="2.6"/><path d="M-18.3,-64.4 L11.1,-64.5" stroke-width="5.8"/><path d="M-15.8,-62.2 L-27.1,-35.0 L-28.8,-32.5 L-28.8,-2.7 L-12.8,-2.4" fill="#fff"/><path d="M-14.4,-53.4 L1.0,-53.5 L0.4,-35.2 L-20.3,-35.1Z"/><path d="M-26.0,-20.6 L-22.1,-20.6"/><path d="M14.1,-0.6 L83.5,-1.0"/><path d="M130.8,0.3 L144.1,0.3 L143.9,-9.5"/><circle cx="0.0" cy="0.0" r="11.0" fill="#fff" stroke-width="5.2"/><circle cx="0.0" cy="0.0" r="2.2" fill="#000" stroke="none"/><circle cx="95.5" cy="0.2" r="9.8" fill="#fff" stroke-width="5.2"/><circle cx="95.5" cy="0.2" r="2.2" fill="#000" stroke="none"/><circle cx="118.2" cy="0.2" r="9.8" fill="#fff" stroke-width="5.2"/><circle cx="118.2" cy="0.2" r="2.2" fill="#000" stroke="none"/></g>
<g fill="none" stroke="#000" stroke-width="7.6" stroke-linejoin="round" stroke-linecap="round"><path d="M1276.0,541.8 L1316.0,541.8 L1332.7,678.2 L1259.6,678.2Z"/><path d="M1271.7,577.1 L1320.3,577.1" stroke-linecap="butt"/><path d="M1268.4,604.9 L1323.7,604.9" stroke-linecap="butt"/><path d="M1265.0,632.7 L1327.1,632.7" stroke-linecap="butt"/><path d="M1332.7,678.2 L1448.9,678.2 L1448.9,605.6 L1411.6,624.4"/><path d="M1330.7,628.2 L1370.7,606.7 L1370.7,678.2"/><path d="M1373.3,624.0 L1408.9,606.2 L1408.9,678.2"/><path d="M1345.6,651.1 L1359.3,651.1" stroke-linecap="butt" stroke-width="7.2"/><path d="M1384.4,651.1 L1398.2,651.1" stroke-linecap="butt" stroke-width="7.2"/><path d="M1423.6,651.1 L1437.8,651.1" stroke-linecap="butt" stroke-width="7.2"/></g><circle cx="1271.6" cy="518.2" r="12.6" fill="#fff" stroke="#000" stroke-width="7.8"/><g fill="none" stroke="#000" stroke-width="7.8" stroke-linecap="round" stroke-linejoin="round"><path d="M1317.3,499.6 L1316.9,490.0 C1308.9,485.6 1296.7,497.8 1296.0,505.6 C1296.7,514.4 1308.9,525.6 1316.0,524.9 C1323.3,524.0 1328.9,520.0 1329.3,514.0"/><path d="M1322.7,493.3 C1324.4,484.4 1333.3,481.1 1338.9,481.6 C1348.9,482.2 1362.2,495.6 1362.7,505.6 C1362.2,515.6 1347.8,531.1 1337.8,530.7 C1331.1,530.2 1324.4,527.8 1326.2,521.1 L1328.9,514.0"/></g><g fill="none" stroke="#000" stroke-width="7.6" stroke-linejoin="miter" stroke-linecap="butt"><path d="M1411.6,556.0 L1400.4,556.0 C1385.6,556.0 1374.4,545.6 1374.4,531.1 L1374.4,518.9 L1385.6,518.9 C1398.9,518.9 1411.6,527.8 1411.6,541.1"/><path d="M1411.6,556.0 L1422.7,556.0 C1437.6,556.0 1448.7,545.6 1448.7,531.1 L1448.7,518.9 L1437.6,518.9 C1424.2,518.9 1411.6,527.8 1411.6,541.1"/><path d="M1411.6,535.6 L1411.6,556.0"/><path d="M1411.6,567.8 L1411.6,591.6"/></g>
<rect x="600" y="284.5" width="527" height="130" fill="#ffffff" fill-opacity="0.5"/>
<g fill="#fff" stroke="#000" stroke-width="1.5" stroke-linejoin="round"><path d="M1601.9,405.8 L1616.1,405.3 L1635.5,419.0 L1630.4,424.1 L1614.1,415.9 L1601.9,411.9Z"/><path d="M1591.1,411.9 L1599.2,411.9 L1604.3,494.4 L1586.6,494.4Z"/><path d="M1582.5,494.4 L1608.0,494.4 L1608.0,504.6 L1582.5,504.6Z"/><rect x="1585.6" y="395.6" width="20.4" height="18.7" rx="3.5"/><path d="M1599.0,399.6 L1598.2,336.1 L1595.8,334.0 L1593.3,336.1 L1585.6,381.3 L1586.6,387.4 L1592.7,396.6Z"/><path d="M1590.1,407.4 L1535.0,437.3 L1534.2,439.4 L1537.7,441.8 L1581.5,425.7 L1586.6,421.6 L1590.7,414.3Z"/><circle cx="1595.1" cy="404.9" r="5.4"/></g><g stroke="#000" stroke-linejoin="round"><path d="M1665.0,490.0 L1680.8,490.0 L1674.2,504.2 L1658.8,504.2Z" fill="#fff" stroke-width="1.5"/><path d="M1616.5,423.8 L1619.0,420.7 L1635.4,485.4 L1701.8,484.2 L1699.6,489.8 L1634.6,490.2Z" fill="#000" stroke-width="1"/><path d="M1619.0,420.8 L1682.7,420.4 L1701.7,484.0 L1635.4,485.4Z" fill="#fff" stroke-width="1.7"/></g><g fill="#000"><path d="M1627.9,427.9 L1637.3,427.9 L1639.2,437.5 L1629.8,437.5Z"/><path d="M1641.2,427.9 L1649.4,427.9 L1651.2,437.5 L1643.1,437.5Z"/><path d="M1660.8,427.9 L1663.3,427.9 L1663.3,437.5 L1660.8,437.5Z"/><path d="M1672.9,427.9 L1679.8,427.9 L1681.2,437.5 L1674.4,437.5Z"/><path d="M1631.2,441.2 L1641.8,441.2 L1643.8,450.8 L1633.2,450.8Z"/><path d="M1645.8,441.2 L1650.2,441.2 L1651.2,450.8 L1646.8,450.8Z"/><path d="M1660.8,441.2 L1662.2,441.2 L1662.2,449.6 L1660.8,449.6Z"/><path d="M1672.9,441.2 L1682.5,441.2 L1684.2,450.8 L1674.6,450.8Z"/><path d="M1635.4,455.0 L1645.9,455.0 L1647.9,464.6 L1637.4,464.6Z"/><path d="M1648.5,455.0 L1650.2,455.0 L1650.2,457.1 L1648.5,457.1Z"/><path d="M1659.2,459.2 L1661.2,459.2 L1661.7,464.6 L1659.7,464.6Z"/><path d="M1671.2,455.0 L1673.0,455.0 L1675.2,464.6 L1673.4,464.6Z"/><path d="M1677.5,455.0 L1687.1,455.0 L1688.8,464.6 L1679.2,464.6Z"/><path d="M1640.0,468.3 L1648.7,468.3 L1650.0,479.6 L1641.3,479.6Z"/><path d="M1659.2,470.0 L1661.7,470.0 L1661.7,479.6 L1659.2,479.6Z"/><path d="M1671.2,470.0 L1678.4,470.0 L1679.6,479.6 L1672.4,479.6Z"/><path d="M1680.8,470.0 L1690.8,470.0 L1692.9,479.6 L1683.0,479.6Z"/></g>
<g fill="none" stroke="#111" stroke-width="3.3" stroke-linecap="round" stroke-linejoin="round"><path d="M1648.3,724.0 L1623.9,724.0 A5.8,5.8 0 0 0 1623.9,735.7 L1663.8,735.7 A5.8,5.8 0 0 0 1663.8,724.0 L1655.0,724.0"/><path d="M1627.0,735.7 L1627.0,757.2"/><path d="M1659.4,735.7 L1659.4,745.5 M1659.4,751.2 L1659.4,757.2"/><path d="M1659.4,757.2 A39.7,39.7 0 0 1 1630.9,831.2"/><path d="M1627.0,757.2 A39.7,39.7 0 0 0 1610.2,770.9"/><path d="M1615.9,770.9 L1662.8,770.9 Q1668.0,770.9 1669.8,777.2 A31.1,31.1 0 0 1 1632.7,822.8"/><path d="M1615.9,770.9 L1611.5,779.8"/><path d="M1574.7,737.0 L1606.8,737.0 A5.7,5.7 0 0 1 1606.8,748.4 L1574.7,748.4 A5.7,5.7 0 0 1 1574.7,737.0Z"/><path d="M1597.2,833.2 L1560.1,833.2 Q1546.7,831.1 1553.1,817.6 L1579.1,772.8 L1579.1,748.4"/><path d="M1605.0,748.4 L1605.0,772.8 L1627.5,817.6 Q1633.5,831.1 1620.5,833.2 L1605.5,833.2"/><path d="M1580.4,787.0 L1603.2,787.0 L1621.3,820.7 Q1622.9,824.9 1617.9,824.9 L1563.5,824.9 Q1558.6,824.9 1560.7,820.7 Z"/></g><g fill="#111"><circle cx="1586.8" cy="800.0" r="2"/><circle cx="1595.9" cy="809.1" r="2"/><circle cx="1581.7" cy="812.9" r="2"/><circle cx="1590.2" cy="706.1" r="2"/><circle cx="1594.6" cy="717.5" r="2"/><circle cx="1586.3" cy="725.6" r="2"/><circle cx="1661.2" cy="781.3" r="2"/><circle cx="1652.2" cy="788.3" r="2"/><circle cx="1627.0" cy="793.0" r="2"/><circle cx="1662.5" cy="794.8" r="2"/><circle cx="1636.1" cy="810.3" r="2"/></g>
<g fill="#fff" stroke="#000" stroke-width="1.3" stroke-linejoin="round"><path d="M173.7,510.0 C174.8,507.5 178.6,503.4 182.0,501.4 C185.4,499.5 191.6,497.4 194.2,498.3 C196.8,499.3 197.4,503.6 197.6,507.1 C197.8,510.6 197.5,516.9 195.3,519.2 C193.1,521.5 187.7,521.4 184.4,520.9 C181.2,520.4 177.7,518.1 175.9,516.3 C174.1,514.5 172.7,512.5 173.7,510.0Z"/><path d="M211.7,497.6 C214.4,495.9 227.8,496.5 232.1,498.1 C236.3,499.7 236.6,504.2 237.1,507.1 C237.7,509.9 236.8,513.7 235.2,515.3 C233.5,517.0 230.5,518.2 227.2,517.0 C223.9,515.8 218.1,511.3 215.6,508.1 C213.0,504.8 208.9,499.2 211.7,497.6Z"/><path d="M233.1,496.9 L253.0,492.5 L274.1,499.5 L262.7,507.3 L235.2,502.2Z"/><path d="M223.3,525.4 C225.8,523.9 235.3,521.0 241.8,517.8 C248.3,514.6 256.4,510.0 262.2,506.1 C268.1,502.3 273.0,496.8 276.8,494.6 C280.6,492.4 283.3,492.4 285.1,493.0 C286.9,493.6 288.3,496.0 287.7,498.3 C287.1,500.7 284.6,504.3 281.7,507.1 C278.7,509.8 274.4,512.1 270.0,514.9 C265.6,517.6 262.5,521.8 255.4,523.8 C248.3,525.8 232.6,526.5 227.2,526.7 C221.9,527.0 220.9,526.8 223.3,525.4Z"/><path d="M195.3,517.8 C193.4,518.9 197.3,523.6 199.0,525.6 C200.8,527.5 203.1,529.3 205.8,529.6 C208.6,530.0 212.5,528.7 215.6,527.7 C218.6,526.7 225.1,525.1 224.3,523.6 C223.5,522.1 215.5,519.7 210.7,518.7 C205.9,517.8 197.3,516.6 195.3,517.8Z"/><ellipse cx="211.7" cy="512.4" rx="17" ry="10.2" transform="rotate(32 211.7 512.4)"/><ellipse cx="211.7" cy="512.4" rx="13.2" ry="6.8" stroke-width="2.3" transform="rotate(32 211.7 512.4)"/><path d="M180.6,483.7 L183.0,478.5 L201.5,483.5 L194.0,469.4 L198.1,467.0 L212.6,483.3 L219.4,487.8 L227.2,483.3 L227.2,470.3 L233.6,470.3 L234.2,483.9 L259.8,476.2 L262.7,483.0 L233.1,494.6 L211.7,497.6 L197.1,490.6 L181.0,486.9Z"/><path d="M198.5,459.9 L203.9,449.2 L210.7,456.0 L228.4,452.2 L228.9,464.3 L227.2,469.2 L219.9,475.0 L211.9,476.2 L207.0,473.5 L205.8,464.3Z"/><path d="M210.7,456.0 C210.0,457.1 207.5,459.7 206.8,462.4 C206.2,465.0 206.0,469.9 206.8,472.1 C207.6,474.3 210.9,474.9 211.7,475.5" fill="none" stroke-width="1.8"/><ellipse cx="240.3" cy="531.4" rx="5.4" ry="2.8" transform="rotate(-12 240.3 531.4)"/><ellipse cx="260.3" cy="531.4" rx="5.0" ry="2.8" transform="rotate(-12 260.3 531.4)"/><ellipse cx="267.1" cy="526.0" rx="4.8" ry="2.0" transform="rotate(-12 267.1 526.0)"/></g>
<g fill="none" stroke="#333" stroke-width="3.6" stroke-linecap="round" stroke-linejoin="round"><path d="M172.8,699.8 C172.8,697.2 172.7,688.9 172.8,684.4 C172.8,680.0 172.5,677.4 173.1,673.3 C173.8,669.3 174.8,663.6 176.7,660.0 C178.6,656.4 181.8,653.4 184.4,651.7 C187.1,650.0 189.9,649.4 192.8,649.8 C195.6,650.2 199.0,651.5 201.7,654.2 C204.4,656.9 206.7,661.5 208.9,666.1 C211.1,670.7 213.7,679.4 214.7,682.0"/><path d="M214.7,682.0 C212.2,681.5 204.2,680.8 200.0,679.1 C195.8,677.4 192.1,674.5 189.4,671.7 C186.8,668.9 185.1,664.9 183.9,662.2 C182.7,659.5 182.7,656.7 182.4,655.6"/><path d="M188.3,655.0 C189.4,656.3 192.5,660.4 194.4,662.8 C196.4,665.2 199.3,668.3 200.2,669.4"/><path d="M172.2,666.1 C171.3,665.2 168.7,661.7 166.7,660.6 C164.6,659.4 162.5,658.4 160.0,659.1 C157.5,659.8 153.8,661.7 151.7,664.7 C149.5,667.6 149.0,672.1 147.2,676.7 C145.4,681.2 140.3,689.8 140.9,692.0 C141.4,694.2 147.0,691.8 150.6,690.0 C154.1,688.2 159.2,684.8 162.4,681.3 C165.7,677.9 168.4,672.3 170.2,669.1 C172.1,665.9 173.0,663.4 173.6,662.2"/></g><path d="M133.3,700.9 L223.3,700.9" stroke="#333" stroke-width="1.6" fill="none"/><g fill="none" stroke="#333" stroke-width="2.9" stroke-linecap="butt" stroke-linejoin="round"><path d="M129.4,703.1 L132.2,706.7 L120.0,711.1 L113.3,709.8 L109.4,716.7 L110.6,722.8 L117.8,725.6 L119.4,732.2 L114.4,734.4"/><path d="M132.2,706.7 L133.3,712.2 L126.7,722.2 L117.8,725.6"/><path d="M133.3,712.2 L142.2,711.1 L162.2,705.6 L163.9,700.9"/><path d="M145.0,700.9 L148.9,706.4"/><path d="M142.2,711.1 L142.8,720.0 L145.6,728.3"/><path d="M126.7,722.2 L133.3,727.8 L132.2,734.4"/><path d="M133.3,727.8 L145.6,728.7 L156.7,732.2 L157.8,734.4"/><path d="M142.8,720.0 L156.7,718.9 L158.9,715.6 L155.6,710.0 L162.2,705.6"/><path d="M156.7,718.9 L167.8,725.6 L168.3,731.1 L156.7,732.2"/><path d="M158.9,715.6 L171.1,713.3 L177.8,717.8 L167.8,725.6"/><path d="M162.2,705.6 L172.2,708.9 L184.4,705.6 L185.6,700.9"/><path d="M172.2,708.9 L171.1,713.3"/><path d="M177.8,717.8 L186.7,722.2 L187.8,728.9 L185.6,734.4"/><path d="M168.3,731.1 L185.6,734.4"/><path d="M184.4,705.6 L194.4,712.2 L192.2,716.7 L196.7,720.0 L193.3,724.4 L186.7,722.2"/><path d="M177.8,717.8 L192.2,716.7"/><path d="M194.4,701.1 L206.7,708.9 L211.1,705.6 L211.1,700.9"/><path d="M194.4,712.2 L206.7,708.9"/><path d="M206.7,708.9 L210.0,712.2 L216.7,713.9 L215.6,720.0 L206.7,725.6 L196.7,722.8"/><path d="M211.1,705.6 L225.6,706.7 L227.2,703.3"/><path d="M225.6,706.7 L226.1,711.1 L238.9,712.8"/><path d="M226.1,711.1 L232.2,713.3 L231.1,717.8 L235.0,723.3 L232.2,726.7 L236.7,734.4"/><path d="M215.6,720.0 L220.0,726.1 L232.2,726.7"/><path d="M206.7,725.6 L213.3,733.9"/><path d="M106.7,735.0 L112.2,735.6 L116.7,746.7 L127.8,743.9 L128.9,751.1"/><path d="M127.8,743.9 L132.2,735.6 L141.1,737.8 L148.9,744.4 L144.4,750.0 L132.2,747.8"/><path d="M148.9,744.4 L155.6,746.7 L158.9,751.1"/><path d="M148.9,744.4 L156.7,740.0 L157.8,735.6"/><path d="M156.7,740.0 L166.7,744.4 L177.8,741.1 L182.2,751.1"/><path d="M177.8,741.1 L176.7,735.6"/><path d="M182.2,746.7 L196.7,745.6 L200.0,738.9 L204.4,737.8 L204.4,735.0"/><path d="M196.7,745.6 L206.7,750.0 L215.6,748.3 L216.7,742.2 L225.6,737.8 L230.0,740.6 L228.9,744.4 L231.1,750.0 L236.7,749.4"/><path d="M230.0,740.6 L235.0,735.6"/></g>
<g fill="none" stroke="#6a6a6a" stroke-width="1.3"><path d="M361.3,854.9 L448.4,806.3" stroke-dasharray="6.5 4"/><path d="M436.6,804.8 L450.7,805.2 L443.8,817.9"/></g><g fill="none" stroke-width="4.4" stroke-linecap="round" stroke-linejoin="round"><g stroke="#333"><path d="M356.7,880.8 Q351.5,864.8 338.4,866.3 Q339.8,878.2 356.7,880.8Z"/><path d="M356.7,880.8 Q378.1,874.2 377.7,858.7 Q360.4,859.2 356.7,880.8Z"/></g><path d="M356.7,897.3 L356.7,880.8" stroke="#333"/></g><g fill="none" stroke="#333" stroke-width="4.4" stroke-linecap="round" stroke-linejoin="round"><path d="M331.8,907.6 C333.1,907.5 336.7,907.7 339.2,906.8 C341.7,905.9 344.1,903.9 346.8,902.2 C349.5,900.6 352.5,897.3 355.2,897.0 C357.9,896.8 359.7,899.6 362.8,900.7 C366.0,901.8 370.9,903.5 374.3,903.8 C377.7,904.0 379.9,902.2 383.5,902.2 C387.0,902.2 392.1,904.1 395.7,903.8 C399.3,903.4 401.9,901.2 404.9,900.1 C407.8,899.0 410.5,896.9 413.3,897.0 C416.1,897.1 419.0,899.5 421.7,900.7 C424.3,902.0 426.3,903.9 429.3,904.5 C432.4,905.2 436.4,904.0 440.0,904.5 C443.6,905.0 446.9,907.3 450.7,907.6 C454.5,907.8 458.9,906.9 462.9,906.1 C467.0,905.2 471.5,903.7 475.1,902.2 C478.8,900.7 481.8,897.4 485.1,897.0 C488.4,896.7 491.8,899.2 495.0,900.1 C498.2,901.0 500.6,900.9 504.2,902.2 C507.7,903.6 514.4,907.3 516.4,908.3"/><path d="M485.1,897.0 L485.1,815.9"/><path d="M485.1,787.9 C490.5,796.6 494.5,803.7 494.1,809.2 C492.7,815.2 489.1,816.7 485.1,816.7 C481.0,816.7 477.4,815.2 476.1,809.2 C475.7,803.7 479.7,796.6 485.1,787.9Z"/><path d="M484.6,843.4 Q473.6,815.9 453.1,818.2 Q455.4,838.6 484.6,843.4Z"/><path d="M485.5,843.4 Q513.0,835.9 514.1,818.2 Q496.4,817.1 485.5,843.4Z"/><path d="M484.6,880.1 Q474.7,850.7 453.1,851.8 Q454.3,873.3 484.6,880.1Z"/><path d="M485.5,880.1 Q516.8,870.0 517.2,849.5 Q496.6,849.2 485.5,880.1Z"/><path d="M413.3,897.0 L413.3,860.2"/><path d="M413.3,835.3 C418.4,843.0 422.2,849.4 421.8,854.3 C420.5,859.7 417.1,861.0 413.3,861.0 C409.4,861.0 406.0,859.7 404.7,854.3 C404.4,849.4 408.1,843.0 413.3,835.3Z"/><path d="M413.3,881.6 Q436.0,878.7 439.2,866.3 Q424.4,862.5 413.3,881.6Z"/><path d="M413.3,881.6 Q405.8,863.9 392.6,865.6 Q394.0,876.6 413.3,881.6Z"/></g><g fill="none" stroke="#333" stroke-width="4.2" stroke-linecap="round" stroke-linejoin="round"><path d="M338.4,924.4 C340.2,923.8 346.6,920.9 349.1,920.9 C351.6,920.8 352.0,923.2 353.7,923.9 C355.4,924.6 358.4,924.9 359.3,925.1"/><path d="M433.6,935.1 C435.4,934.4 441.7,931.4 444.6,931.3 C447.4,931.1 448.9,933.6 450.7,934.3 C452.5,935.0 454.8,935.3 455.6,935.5"/><path d="M480.5,922.1 C482.2,920.9 487.8,915.9 490.4,915.2 C493.1,914.6 494.5,917.6 496.5,918.3 C498.6,918.9 501.9,918.9 503.0,919.0"/></g><g fill="#333"><circle cx="369.7" cy="914.8" r="3.0"/><circle cx="410.5" cy="914.8" r="3.0"/><circle cx="389.9" cy="921.6" r="3.0"/><circle cx="430.4" cy="919.0" r="3.0"/><circle cx="461.4" cy="921.6" r="3.0"/><circle cx="373.2" cy="932.0" r="3.0"/><circle cx="406.9" cy="932.0" r="3.0"/><circle cx="481.3" cy="935.5" r="3.0"/><circle cx="508.8" cy="932.0" r="3.0"/></g>
<rect x="30" y="735" width="372" height="144" rx="28" fill="#ffffff" fill-opacity="0.5"/>
<path d="M135.7,944.2 L136.5,937.3 C137.2,936.0 139.0,931.9 141.0,929.8 C143.0,927.7 145.9,925.9 148.4,924.7 C150.9,923.5 154.1,924.0 155.9,922.6 C157.7,921.1 159.1,918.1 159.3,915.9 C159.5,913.8 157.5,912.0 157.0,909.6 C156.4,907.1 155.7,903.5 155.9,901.0 C156.1,898.6 156.6,896.2 158.0,894.6 C159.4,893.0 162.5,891.5 164.4,891.5 C166.4,891.4 168.3,893.2 169.7,894.4 C171.2,895.7 170.4,899.2 172.9,898.9 C175.4,898.6 182.3,894.6 184.6,892.5 C187.0,890.4 185.4,888.1 186.8,886.1 C188.2,884.2 190.3,881.9 193.2,880.8 C196.0,879.7 200.3,880.8 203.8,879.7 C207.4,878.7 212.0,876.5 214.5,874.4 C217.0,872.3 217.6,869.1 218.7,867.0 C219.9,864.8 217.9,860.6 221.4,861.6 C224.9,862.7 237.3,870.3 239.5,873.3 C241.7,876.4 235.5,878.1 234.7,879.7 C233.9,881.4 234.2,881.4 234.7,883.1 C235.2,884.9 237.2,887.8 237.9,890.4 C238.6,893.0 238.6,896.4 239.0,898.9 C239.3,901.4 239.3,903.7 240.0,905.3 C240.7,906.9 241.6,908.7 243.2,908.5 C244.8,908.3 248.2,905.6 249.6,904.2 C251.0,902.8 251.7,901.8 251.7,900.2 C251.7,898.6 249.4,895.4 249.6,894.6 C249.8,893.9 251.8,895.8 252.8,895.9 C253.8,896.0 255.2,894.1 255.5,895.2 C255.7,896.2 254.1,900.5 254.4,902.1 C254.7,903.7 255.4,904.6 257.1,904.8 C258.8,904.9 262.8,903.9 264.5,903.2 C266.3,902.5 267.4,901.6 267.7,900.5 C268.1,899.4 266.6,897.6 266.7,896.8 C266.7,896.0 267.3,895.2 268.3,895.7 C269.2,896.2 272.5,898.6 272.5,900.0 C272.5,901.4 268.9,901.9 268.3,904.2 C267.6,906.5 268.2,910.8 268.8,913.8 C269.4,916.8 271.2,919.9 272.0,922.3 C272.7,924.8 272.0,927.0 273.3,928.7 C274.5,930.5 277.5,931.2 279.4,933.0 C281.4,934.8 283.9,938.3 284.8,939.4 L286.0,944.2Z" fill="#231f20"/><ellipse cx="163.9" cy="907.4" rx="3.6" ry="8.2" fill="#fff" transform="rotate(-14 163.9 907.4)"/><ellipse cx="208.1" cy="899.4" rx="6.2" ry="4.2" fill="#fff" transform="rotate(-8 208.1 899.4)"/><ellipse cx="183.6" cy="917.5" rx="3.2" ry="3.4" fill="#dfe8d8" transform="rotate(0 183.6 917.5)"/><ellipse cx="201.2" cy="927.7" rx="4.3" ry="3.6" fill="#ccd9c3" transform="rotate(-30 201.2 927.7)"/><ellipse cx="229.9" cy="932.5" rx="5.8" ry="4.2" fill="#c9d6c0" transform="rotate(10 229.9 932.5)"/><ellipse cx="259.2" cy="926.6" rx="3.2" ry="3.4" fill="#ccd9c3" transform="rotate(0 259.2 926.6)"/><ellipse cx="158.0" cy="934.1" rx="4.8" ry="3.0" fill="#c7d4be" transform="rotate(20 158.0 934.1)"/><g fill="none" stroke="#231f20" stroke-width="2.3" stroke-linecap="round"><path d="M166.0,861.1 C166.5,862.2 167.4,865.9 168.7,868.0 C169.9,870.1 172.7,871.8 173.5,873.6 C174.2,875.3 173.2,877.8 173.1,878.7"/><path d="M177.4,845.7 C177.2,847.1 175.5,851.3 176.1,854.2 C176.8,857.0 180.1,860.2 181.5,862.9 C182.8,865.6 184.2,867.7 184.2,870.1 C184.2,872.6 181.9,876.5 181.5,877.8"/></g><path d="M241.6,851.0 L246.4,851.2 L249.6,852.6 L252.8,851.0 L257.6,850.4 L252.8,852.3 L249.8,854.4 L246.4,852.7Z" fill="#231f20"/><path d="M252.3,863.8 L259.2,864.0 L265.6,866.7 L272.0,865.9 L281.0,869.1 L272.0,867.8 L266.7,870.7 L262.4,867.5Z" fill="#231f20"/>
<g transform="translate(24.8,413.9)" fill="none" stroke="#c9c9c9" stroke-width="3.4" stroke-linecap="round" stroke-linejoin="round"><path d="M544.3,436.2 L544.3,430.3 Q544.3,427.9 546.4,427.9 L562.8,427.9 L600.3,445.3"/><path d="M544.3,444.6 L544.3,482.5 Q544.3,484.2 546.1,484.2 L558.6,484.2"/><path d="M554.4,427.9 L554.4,484.2"/><path d="M544.0,452.5 L522.8,472.4 L522.8,483.5 Q522.8,485.8 525.3,485.1 L544.0,480.0"/><path d="M568.3,498.1 L560.7,498.1 Q558.6,498.1 558.6,496.0 L558.6,484.2 L573.2,471.0 L660.7,471.0"/><path d="M595.4,498.1 L624.2,498.1"/><path d="M651.4,498.1 L658.9,498.1 Q661.0,498.1 661.0,496.0 L661.0,489.0 M661.0,478.1 L661.0,455.7 Q661.0,453.6 658.9,453.6 L600.3,453.6"/><path d="M600.3,445.3 L600.3,471.0"/><path d="M601.0,452.2 L609.7,438.1 L619.7,438.1 L628.1,452.2"/><path d="M629.4,452.2 L629.4,436.9 Q629.4,434.9 631.5,434.9 L653.1,434.9 Q655.1,434.9 655.1,436.9 L655.1,452.2"/><path d="M610.4,462.4 L613.2,462.4" stroke-width="4.0"/><path d="M622.5,462.4 L625.3,462.4" stroke-width="4.0"/><path d="M635.0,462.4 L637.8,462.4" stroke-width="4.0"/><path d="M647.5,462.4 L650.3,462.4" stroke-width="4.0"/><circle cx="581.8" cy="493.9" r="13.6" stroke-width="3.6"/><circle cx="581.8" cy="493.9" r="5.2" stroke-width="3.1"/><circle cx="637.8" cy="493.9" r="13.6" stroke-width="3.6"/><circle cx="637.8" cy="493.9" r="5.2" stroke-width="3.1"/><g stroke="#c9c9c9"><path d="M609.3,437.6 L609.3,407.8 Q609.3,396.0 621.1,396.0 L646.8,396.0 Q650.0,396.0 648.2,398.8 L641.9,405.0 Q641.1,405.8 639.4,405.8 L625.3,405.8 Q619.0,405.8 619.0,412.2 L619.0,437.6"/><path d="M634.0,392.2 L634.0,409.4" stroke-width="3.8"/></g></g><g fill="none" stroke="#ffffff" stroke-width="10.6"><circle cx="624.1" cy="867.4" r="84.2"/><path d="M566.5,810.5 L681.5,924.5"/></g><g fill="none" stroke="#d9d9d9" stroke-width="7.4"><circle cx="624.1" cy="867.4" r="84.2"/><path d="M565.5,809.5 L682.5,925.5"/></g>
<text x="77.0" y="306.7" textLength="183.5" lengthAdjust="spacingAndGlyphs" font-family="'Liberation Sans','DejaVu Sans Condensed',sans-serif" font-weight="bold" font-size="48" fill="#548235" filter="url(#ts)">Biomass</text>
<text x="84.0" y="363.3" textLength="167.1" lengthAdjust="spacingAndGlyphs" font-family="'Liberation Sans','DejaVu Sans Condensed',sans-serif" font-weight="bold" font-size="48" fill="#548235" filter="url(#ts)">source?</text>
<text x="624.5" y="335.5" textLength="478.5" lengthAdjust="spacingAndGlyphs" font-family="'Liberation Sans','DejaVu Sans Condensed',sans-serif" font-weight="bold" font-size="48" fill="#548235" filter="url(#ts)">Processing, collection</text>
<text x="702.0" y="392.4" textLength="322.5" lengthAdjust="spacingAndGlyphs" font-family="'Liberation Sans','DejaVu Sans Condensed',sans-serif" font-weight="bold" font-size="48" fill="#548235" filter="url(#ts)">and transport?</text>
<text x="1483.5" y="589.3" textLength="268.5" lengthAdjust="spacingAndGlyphs" font-family="'Liberation Sans','DejaVu Sans Condensed',sans-serif" font-weight="bold" font-size="48" fill="#548235" filter="url(#ts)">Other green</text>
<text x="1475.0" y="647.7" textLength="286.5" lengthAdjust="spacingAndGlyphs" font-family="'Liberation Sans','DejaVu Sans Condensed',sans-serif" font-weight="bold" font-size="48" fill="#548235" filter="url(#ts)">alternatives?</text>
<text x="45.0" y="794" textLength="325.0" lengthAdjust="spacingAndGlyphs" font-family="'Liberation Sans','DejaVu Sans Condensed',sans-serif" font-weight="bold" font-size="48" fill="#548235" filter="url(#ts)">Environmental</text>
<text x="113.5" y="850" textLength="194.5" lengthAdjust="spacingAndGlyphs" font-family="'Liberation Sans','DejaVu Sans Condensed',sans-serif" font-weight="bold" font-size="48" fill="#548235" filter="url(#ts)">impacts?</text>
<text x="729.5" y="897" textLength="488.5" lengthAdjust="spacingAndGlyphs" font-family="'Liberation Sans','DejaVu Sans Condensed',sans-serif" font-weight="bold" font-size="48" fill="#548235" filter="url(#ts)">No bioenergy project?</text>
<text x="53.6" y="563" font-family="'Liberation Sans',sans-serif" font-size="30.5" fill="#e3e3e3" textLength="211" lengthAdjust="spacingAndGlyphs">©J. Allen 2024</text>
</svg>
</body>
</html>
